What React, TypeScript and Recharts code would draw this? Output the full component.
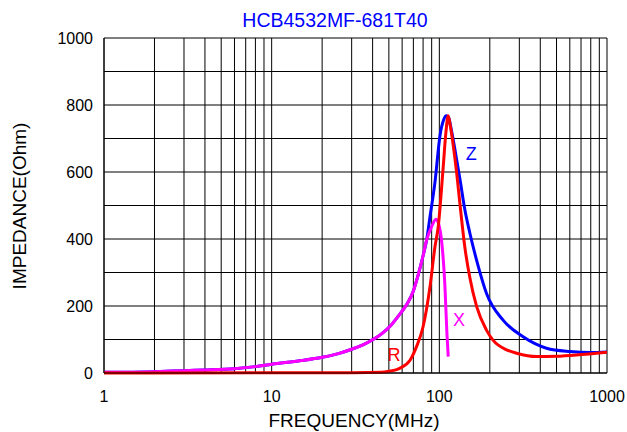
import React from 'react';
import { LineChart, Line, XAxis, YAxis, CartesianGrid, ReferenceDot } from 'recharts';

const titleText = 'HCB4532MF-681T40';
const xTitle = 'FREQUENCY(MHz)';
const yTitle = 'IMPEDANCE(Ohm)';

const xTicks = [1, 2, 3, 4, 5, 6, 7, 8, 9, 10, 20, 30, 40, 50, 60, 70, 80, 90, 100, 200, 300, 400, 500, 600, 700, 800, 900, 1000];
const xLabelTicks = [1, 10, 100, 1000];
const yTicks = [0, 100, 200, 300, 400, 500, 600, 700, 800, 900, 1000];
const yLabelTicks = [0, 200, 400, 600, 800, 1000];

const zFreq = [1, 2, 3, 4, 6, 8, 10, 15, 20, 25, 30, 35, 40, 46, 52, 58, 64, 70, 75, 80, 84, 88, 94, 101, 106, 110, 114, 118, 124, 133, 142, 152, 171, 191, 240, 316, 436, 600, 800, 1000];
const zVal = [2, 4, 7, 9, 13, 19, 26, 37, 47, 58, 71, 84, 99, 120, 145, 175, 205, 245, 295, 350, 397, 467, 566, 710, 755, 768, 760, 725, 666, 576, 487, 418, 317, 238, 158, 108, 74, 64, 61, 63];

const xFreq = [1, 2, 3, 4, 6, 8, 10, 15, 20, 25, 30, 35, 40, 46, 52, 58, 64, 70, 75, 80, 84, 90, 95.5, 100, 103, 108, 111, 113];
const xVal = [2, 4, 7, 9, 13, 19, 26, 37, 47, 58, 71, 84, 99, 120, 145, 175, 205, 245, 295, 350, 397, 437, 459, 437, 397, 258, 118, 49];

const rFreq = [1, 10, 30, 45, 50, 58, 67, 73, 80, 88, 94, 98.5, 105.5, 109.3, 113, 116, 121, 127, 133, 142, 152, 167, 191, 209, 252, 289, 380, 500, 700, 1000];
const rVal = [0, 0.5, 1, 2, 5, 14, 39, 78, 138, 258, 374, 437, 616, 715, 768, 740, 680, 595, 500, 375, 285, 198, 128, 98, 69, 59, 49, 50, 55, 62];

const toData = (fs: number[], vs: number[]) => fs.map((f, i) => ({ f, v: vs[i] }));
const zData = toData(zFreq, zVal);
const xData = toData(xFreq, xVal);
const rData = toData(rFreq, rVal);

const FONT = '"Liberation Sans", Arial, sans-serif';

export default function App() {
  return (
    <div style={{ position: 'absolute', left: 0, top: 0 }}>
      <LineChart width={627} height={432} margin={{ top: 38, right: 20, bottom: 29, left: 44 }} style={{ fontFamily: FONT }}>
        <CartesianGrid stroke="#000" strokeWidth={1} />
        <XAxis
          dataKey="f"
          type="number"
          scale="log"
          domain={[1, 1000]}
          allowDataOverflow
          ticks={xTicks}
          interval={0}
          tickFormatter={(v: number) => (xLabelTicks.includes(v) ? String(v) : '')}
          tickLine={false}
          tickSize={6}
          tickMargin={12}
          height={30}
          axisLine={{ stroke: '#000' }}
          tick={{ fill: '#000', fontSize: 16, fontFamily: FONT }}
        />
        <YAxis
          type="number"
          domain={[0, 1000]}
          ticks={yTicks}
          interval={0}
          tickFormatter={(v: number) => (yLabelTicks.includes(v) ? String(v) : '')}
          tickLine={false}
          tickSize={6}
          tickMargin={5}
          width={60}
          axisLine={{ stroke: '#000' }}
          tick={{ fill: '#000', fontSize: 16, fontFamily: FONT }}
        />
        <Line data={zData} dataKey="v" type="monotone" stroke="#0000ff" strokeWidth={3} dot={false} isAnimationActive={false} />
        <Line data={xData} dataKey="v" type="monotone" stroke="#ff00ff" strokeWidth={3} dot={false} isAnimationActive={false} />
        <Line data={rData} dataKey="v" type="monotone" stroke="#ff0000" strokeWidth={3} dot={false} isAnimationActive={false} />
        <ReferenceDot x={155} y={654} r={0} fill="none" stroke="none" ifOverflow="visible"
          label={{ value: 'Z', position: 'center', fill: '#0000ff', fontSize: 18, fontFamily: FONT }} />
        <ReferenceDot x={131} y={158} r={0} fill="none" stroke="none" ifOverflow="visible"
          label={{ value: 'X', position: 'center', fill: '#ff00ff', fontSize: 18, fontFamily: FONT }} />
        <ReferenceDot x={53.6} y={54} r={0} fill="none" stroke="none" ifOverflow="visible"
          label={{ value: 'R', position: 'center', fill: '#ff0000', fontSize: 18, fontFamily: FONT }} />
        <text x={335} y={27} textAnchor="middle" fill="#0000ff" fontSize={19.5} fontFamily={FONT}>{titleText}</text>
        <text x={354} y={427} textAnchor="middle" fill="#000" fontSize={19} fontFamily={FONT}>{xTitle}</text>
        <text x={26} y={206} textAnchor="middle" fill="#000" fontSize={19} fontFamily={FONT} transform="rotate(-90 26 206)">{yTitle}</text>
      </LineChart>
    </div>
  );
}
